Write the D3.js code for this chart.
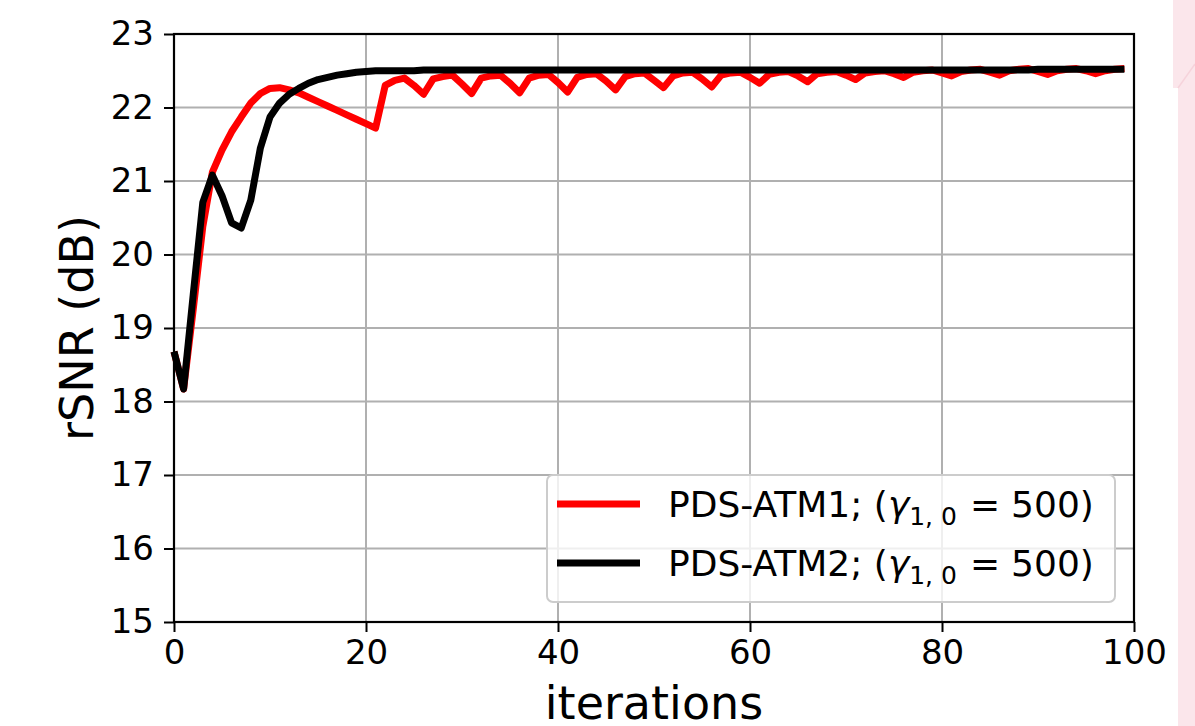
<!DOCTYPE html>
<html>
<head>
<meta charset="utf-8">
<script src="https://cdn.jsdelivr.net/npm/d3@7/dist/d3.min.js"></script>
<style>
  html, body { margin: 0; padding: 0; background: #ffffff; }
  svg { display: block; }
  text { font-family: "DejaVu Sans", sans-serif; fill: #000; }
</style>
</head>
<body>
<div id="chart"></div>
<script>
// ---------- data ----------
const iterations = d3.range(0, 100);

const atm1Values = [
  18.68, 18.17, 19.25, 20.38, 21.12, 21.42, 21.67, 21.87, 22.06, 22.19,
  22.26, 22.27, 22.24, 22.20, 22.14, 22.08, 22.02, 21.96, 21.90, 21.84,
  21.78, 21.72, 22.30, 22.37, 22.40, 22.30, 22.18, 22.39, 22.42, 22.44,
  22.32, 22.19, 22.40, 22.43, 22.44, 22.33, 22.20, 22.40, 22.44, 22.45,
  22.34, 22.21, 22.41, 22.45, 22.46, 22.36, 22.24, 22.42, 22.46, 22.47,
  22.37, 22.27, 22.43, 22.47, 22.48, 22.39, 22.28, 22.44, 22.47, 22.48,
  22.41, 22.33, 22.45, 22.48, 22.49, 22.43, 22.35, 22.46, 22.48, 22.49,
  22.44, 22.38, 22.47, 22.49, 22.50, 22.46, 22.41, 22.48, 22.50, 22.51,
  22.47, 22.43, 22.49, 22.51, 22.52, 22.48, 22.44, 22.50, 22.52, 22.53,
  22.49, 22.45, 22.50, 22.52, 22.53, 22.50, 22.46, 22.50, 22.52, 22.53
];

const atm2Values = [
  18.68, 18.17, 19.45, 20.71, 21.08, 20.80, 20.43, 20.36, 20.74, 21.45,
  21.87, 22.06, 22.18, 22.26, 22.33, 22.38, 22.41, 22.44, 22.46, 22.48,
  22.49, 22.50, 22.50, 22.50, 22.50, 22.50, 22.51, 22.51, 22.51, 22.51,
  22.51, 22.51, 22.51, 22.51, 22.51, 22.51, 22.51, 22.51, 22.51, 22.51,
  22.51, 22.51, 22.51, 22.51, 22.51, 22.51, 22.51, 22.51, 22.51, 22.51,
  22.51, 22.51, 22.51, 22.51, 22.51, 22.51, 22.51, 22.51, 22.51, 22.51,
  22.51, 22.51, 22.51, 22.51, 22.51, 22.51, 22.51, 22.51, 22.51, 22.51,
  22.51, 22.51, 22.51, 22.51, 22.51, 22.51, 22.51, 22.51, 22.51, 22.51,
  22.51, 22.51, 22.51, 22.51, 22.51, 22.51, 22.51, 22.51, 22.51, 22.51,
  22.52, 22.52, 22.52, 22.52, 22.52, 22.52, 22.52, 22.52, 22.52, 22.52
];

const xTicks = [0, 20, 40, 60, 80, 100];
const yTicks = [15, 16, 17, 18, 19, 20, 21, 22, 23];
const xDomain = [0, 100];
const yDomain = [15, 23];

const seriesNames = ["PDS-ATM1", "PDS-ATM2"];
const seriesColors = ["#ff0000", "#000000"];
const seriesList = [atm1Values, atm2Values];

// ---------- layout ----------
const W = 1195, H = 726;
const m = { left: 174, right: 1134, top: 34, bottom: 622 };

const svg = d3.select("#chart").append("svg")
  .attr("width", W).attr("height", H);

svg.append("rect").attr("width", W).attr("height", H).attr("fill", "#ffffff");

// pink page edge on the right
svg.append("polygon")
  .attr("points", "1173,0 1195,0 1195,726 1178,726 1178,88 1173,88")
  .attr("fill", "#fbe6eb");
svg.append("line")
  .attr("x1", 1178).attr("y1", 88).attr("x2", 1195).attr("y2", 64)
  .attr("stroke", "#f6d3db").attr("stroke-width", 1.5);

const x = d3.scaleLinear().domain(xDomain).range([m.left, m.right]);
const y = d3.scaleLinear().domain(yDomain).range([m.bottom, m.top]);

// grid
const grid = svg.append("g");
grid.selectAll("line.gx").data(xTicks).enter().append("line")
  .attr("x1", d => x(d)).attr("x2", d => x(d))
  .attr("y1", m.top).attr("y2", m.bottom)
  .attr("stroke", "#b0b0b0").attr("stroke-width", 2);
grid.selectAll("line.gy").data(yTicks).enter().append("line")
  .attr("x1", m.left).attr("x2", m.right)
  .attr("y1", d => y(d)).attr("y2", d => y(d))
  .attr("stroke", "#b0b0b0").attr("stroke-width", 2);

// lines
const plot = svg.append("g");
const lineGen = d3.line().x((d, i) => x(iterations[i])).y(d => y(d));
seriesList.forEach((vals, k) => {
  plot.append("path")
    .datum(vals)
    .attr("d", lineGen)
    .attr("fill", "none")
    .attr("stroke", seriesColors[k])
    .attr("stroke-width", 7)
    .attr("stroke-linejoin", "round")
    .attr("stroke-linecap", "butt");
});

// spines
svg.append("rect")
  .attr("x", m.left).attr("y", m.top)
  .attr("width", m.right - m.left).attr("height", m.bottom - m.top)
  .attr("fill", "none").attr("stroke", "#000").attr("stroke-width", 2.2);

// axes
const xAxis = d3.axisBottom(x).tickValues(xTicks).tickSize(10).tickPadding(8)
  .tickFormat(d3.format("d"));
const gx = svg.append("g").attr("transform", `translate(0,${m.bottom})`).call(xAxis);
gx.select(".domain").remove();
gx.selectAll(".tick line").attr("stroke", "#000").attr("stroke-width", 2);
gx.selectAll(".tick text").attr("font-size", 34).attr("font-family", "DejaVu Sans").attr("fill", "#000");

const yAxis = d3.axisLeft(y).tickValues(yTicks).tickSize(10).tickPadding(10)
  .tickFormat(d3.format("d"));
const gy = svg.append("g").attr("transform", `translate(${m.left},0)`).call(yAxis);
gy.select(".domain").remove();
gy.selectAll(".tick line").attr("stroke", "#000").attr("stroke-width", 2);
gy.selectAll(".tick text").attr("font-size", 34).attr("font-family", "DejaVu Sans").attr("fill", "#000");

// axis labels
svg.append("text")
  .attr("x", (m.left + m.right) / 2).attr("y", 719)
  .attr("text-anchor", "middle").attr("font-size", 46)
  .text("iterations");
svg.append("text")
  .attr("transform", `translate(93,${(m.top + m.bottom) / 2}) rotate(-90)`)
  .attr("text-anchor", "middle").attr("font-size", 46)
  .text("rSNR (dB)");

// legend
const leg = svg.append("g");
leg.append("rect")
  .attr("x", 547).attr("y", 475).attr("width", 568).attr("height", 127)
  .attr("rx", 6).attr("ry", 6)
  .attr("fill", "#ffffff").attr("fill-opacity", 0.8)
  .attr("stroke", "#cccccc").attr("stroke-width", 2);

const legendRows = [504, 563];
seriesNames.forEach((name, k) => {
  const ly = legendRows[k];
  leg.append("line")
    .attr("x1", 557).attr("x2", 640).attr("y1", ly).attr("y2", ly)
    .attr("stroke", seriesColors[k]).attr("stroke-width", 7);
  const t = leg.append("text")
    .attr("x", 668).attr("y", ly + 13)
    .attr("font-size", 36);
  t.append("tspan").text(name + "; (");
  t.append("tspan").attr("font-style", "italic").text("γ");
  t.append("tspan").attr("font-size", 25).attr("dy", 8).text("1, 0");
  t.append("tspan").attr("dy", -8).attr("dx", 13).text("=");
  t.append("tspan").attr("dx", 11).text("500)");
});
</script>
</body>
</html>
